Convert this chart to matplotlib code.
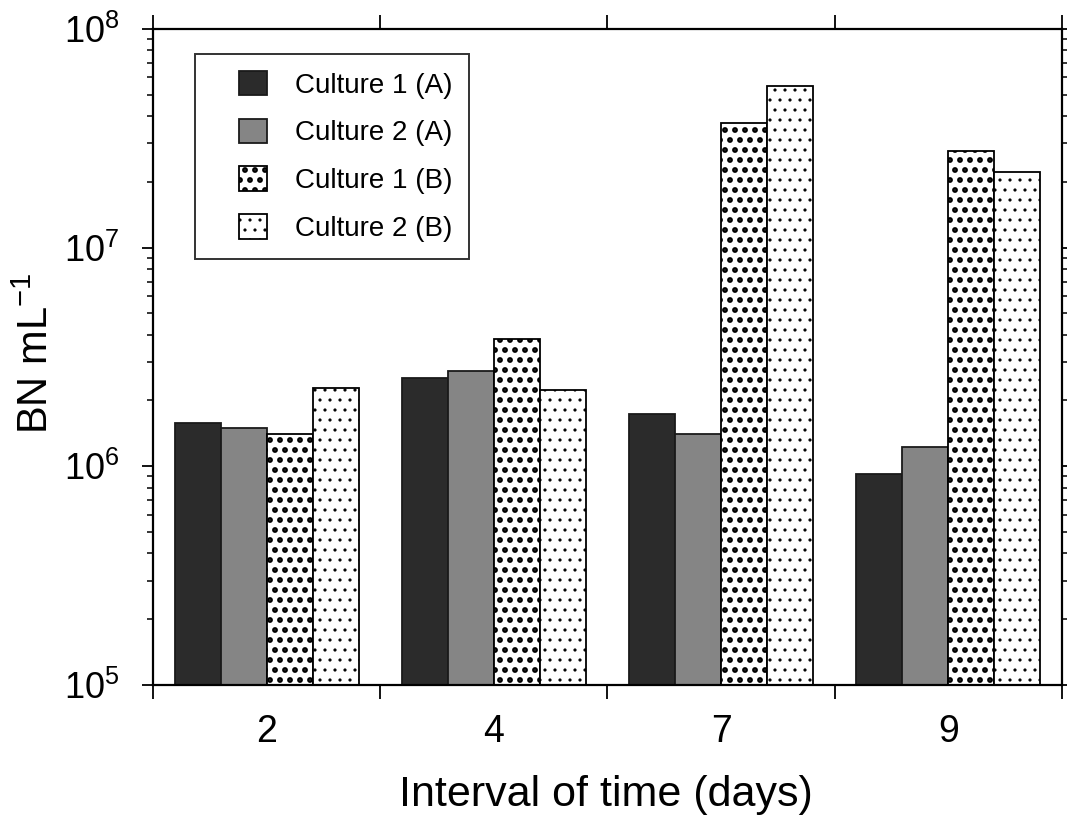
import matplotlib
matplotlib.use("Agg")
import matplotlib.pyplot as plt
import numpy as np
from matplotlib.ticker import NullFormatter
from matplotlib.legend_handler import HandlerPatch
from matplotlib.container import BarContainer

# bacterial numbers (BN mL-1)
days = ["2", "4", "7", "9"]
c1a = [1.58e6, 2.53e6, 1.73e6, 0.92e6]
c2a = [1.50e6, 2.73e6, 1.41e6, 1.22e6]
c1b = [1.41e6, 3.82e6, 3.71e7, 2.77e7]
c2b = [2.28e6, 2.23e6, 5.48e7, 2.22e7]
labels = ["Culture 1 (A)", "Culture 2 (A)", "Culture 1 (B)", "Culture 2 (B)"]
yticks = [1e5, 1e6, 1e7, 1e8]

# low dpi so that the hatch tile (one inch) gives a coarse dot screen;
# K converts sizes thought of at 100 dpi into points at this dpi
DPI = 60
K = 100 / DPI

plt.rcParams["font.family"] = ["Liberation Sans", "DejaVu Sans"]
plt.rcParams["hatch.color"] = "black"

fig = plt.figure(figsize=(1067 / DPI, 823 / DPI), dpi=DPI)
ax = fig.add_axes([0.1434, 0.1677, 0.8519, 0.7971])
ax.set_yscale("log")

x = np.arange(len(days))
w = 0.2027
styles = [dict(color="#2b2b2b", edgecolor="#1a1a1a"),
          dict(color="#858585", edgecolor="#1a1a1a"),
          dict(color="white", edgecolor="black", hatch="."),
          dict(color="white", edgecolor="black", hatch=".")]
hlw = [1.0, 1.0, 4.5, 1.4]
for i, (vals, st) in enumerate(zip([c1a, c2a, c1b, c2b], styles)):
    with plt.rc_context({"hatch.linewidth": hlw[i]}):
        bc = ax.bar(x + (i - 1.5) * w, vals, w, linewidth=1.3 * K,
                    label=labels[i], zorder=2, **st)
    for p in bc:
        try:
            p.set_hatch_linewidth(hlw[i])
        except AttributeError:
            pass


def copy_bar_style(legend_handle, orig_handle):
    first = orig_handle[0]
    legend_handle.update_from(first)
    try:
        legend_handle.set_hatch_linewidth(first.get_hatch_linewidth())
    except AttributeError:
        pass


ax.set_xlim(-0.5, 3.5)
ax.set_ylim(1e5, 1e8)

# x: major ticks at group boundaries (unlabelled), labels at group centres
ax.set_xticks(np.arange(-0.5, 3.6, 1.0))
ax.set_xticklabels([])
ax.set_xticks(x, minor=True)
ax.set_xticklabels(days, minor=True, fontsize=27 * K)
ax.tick_params(axis="x", which="major", direction="out", length=10 * K,
               width=1.3 * K, top=True, bottom=True)
ax.tick_params(axis="x", which="minor", length=0, pad=21 * K, top=False)

ax.set_yticks(yticks)
ax.set_yticklabels([r"$\mathregular{10^{%d}}$" % int(np.log10(v)) for v in yticks],
                   fontsize=26 * K)
ax.yaxis.set_minor_formatter(NullFormatter())
ax.tick_params(axis="y", which="major", direction="out", length=8 * K,
               width=1.3 * K, right=True, pad=16 * K)
ax.tick_params(axis="y", which="minor", direction="out", length=4 * K,
               width=1.1 * K, right=True)

for s in ax.spines.values():
    s.set_linewidth(1.6 * K)

ax.set_xlabel("Interval of time (days)", fontsize=31 * K)
ax.xaxis.set_label_coords(0.498, -0.137)
ax.set_ylabel(r"BN mL$\mathregular{^{-1}}$", fontsize=30 * K)
ax.yaxis.set_label_coords(-0.106, 0.505)

leg = ax.legend(loc="upper left", bbox_to_anchor=(0.046, 0.962), fontsize=20 * K,
                frameon=True, fancybox=False, borderaxespad=0, handlelength=2.0,
                handleheight=1.0, handletextpad=1.0, labelspacing=0.72,
                borderpad=0.6,
                handler_map={BarContainer: HandlerPatch(xpad=1.0,
                                                        update_func=copy_bar_style)})
leg.get_frame().set_edgecolor("black")
leg.get_frame().set_linewidth(1.4 * K)

fig.savefig("out.png", dpi=DPI)
